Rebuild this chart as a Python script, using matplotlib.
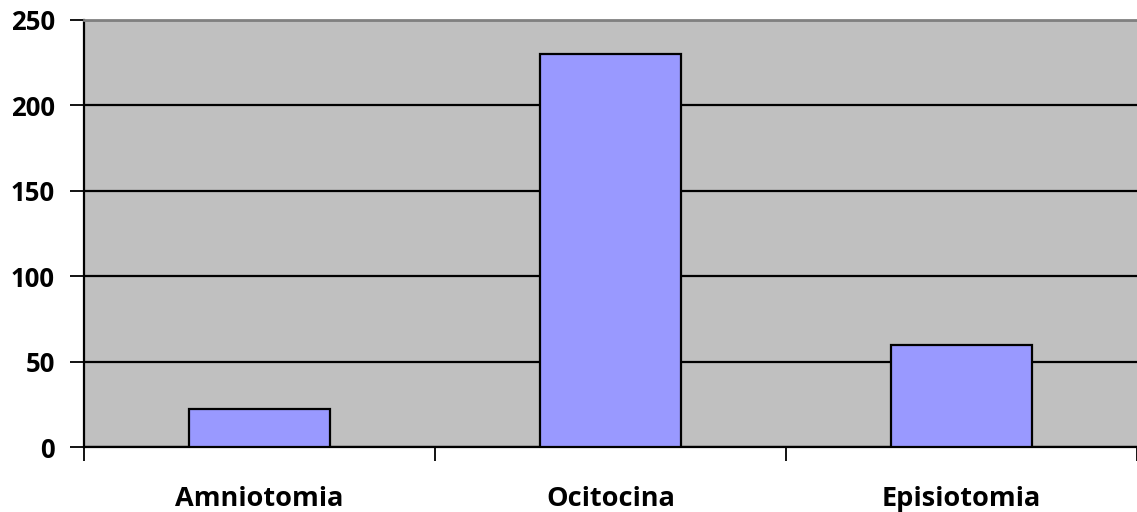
import matplotlib
matplotlib.use("Agg")
import matplotlib.pyplot as plt
import numpy as np

categories = ["Amniotomia", "Ocitocina", "Episiotomia"]
values = [22, 230, 60]
yticks = [0, 50, 100, 150, 200, 250]

plt.rcParams['font.family'] = ['Open Sans', 'DejaVu Sans']

fig = plt.figure(figsize=(11.37, 5.12), dpi=100)
ax = fig.add_axes([84 / 1137, 1 - 447 / 512, (1137 - 84) / 1137, (447 - 20) / 512])
ax.set_facecolor('#c0c0c0')

x = np.arange(len(categories))
ax.bar(x, values, width=0.4, color='#9999ff', edgecolor='black', linewidth=1.6, zorder=3)

ax.set_xlim(-0.5, len(categories) - 0.5)
ax.set_ylim(0, 250)
ax.set_yticks(yticks)
ax.set_yticklabels([str(v) for v in yticks], fontsize=18.5, fontweight='bold')
ax.yaxis.grid(True, color='black', linewidth=1.6, zorder=1)
ax.set_axisbelow(True)

# category separators as ticks, labels centered under each bar
ax.set_xticks(np.arange(-0.5, len(categories)), minor=False)
ax.set_xticklabels([])
ax.set_xticks(x, minor=True)
ax.set_xticklabels(categories, minor=True, fontsize=19.5, fontweight='bold')
ax.tick_params(axis='x', which='major', length=10, width=1.3, direction='out')
ax.tick_params(axis='x', which='minor', length=0, pad=28)
ax.tick_params(axis='y', length=10, width=1.3, direction='out', pad=11)

ax.spines['left'].set_linewidth(1.6)
ax.spines['bottom'].set_linewidth(1.6)
ax.spines['top'].set_color('#808080')
ax.spines['top'].set_linewidth(2)
ax.spines['right'].set_visible(False)

fig.savefig("out.png", dpi=100)
